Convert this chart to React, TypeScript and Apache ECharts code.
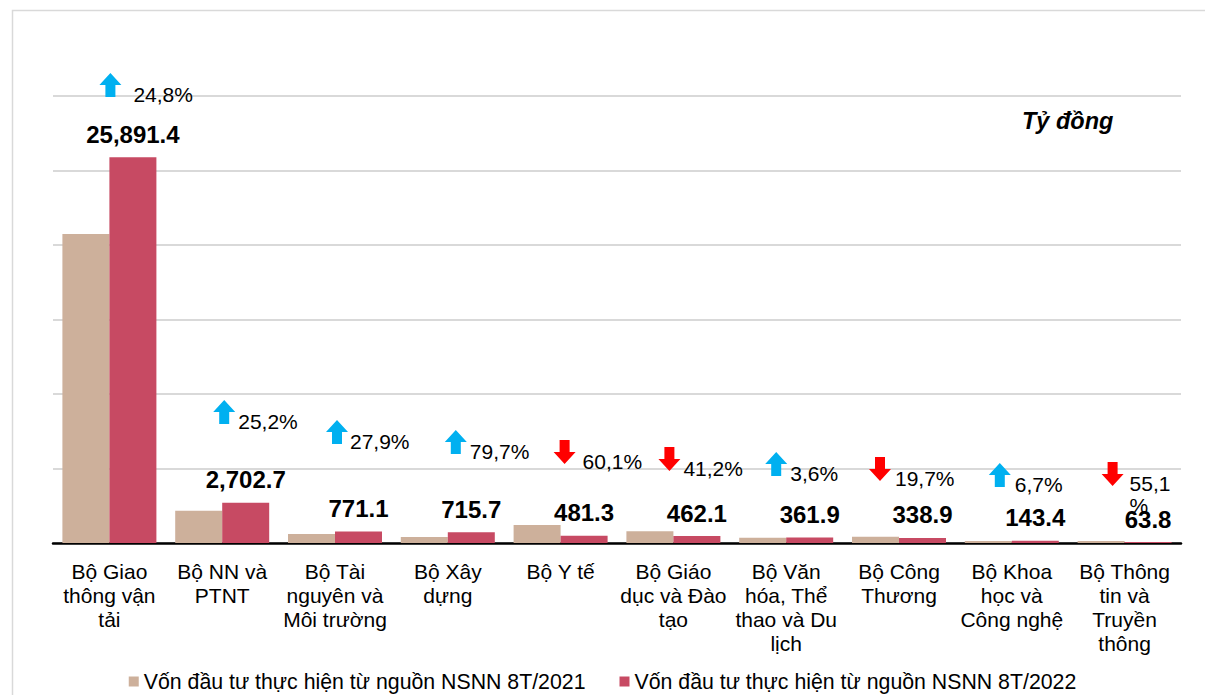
import React, { useEffect, useRef } from "react";
import * as echarts from "echarts";

const CATEGORIES = [
  "Bộ Giao\nthông vận\ntải",
  "Bộ NN và\nPTNT",
  "Bộ Tài\nnguyên và\nMôi trường",
  "Bộ Xây\ndựng",
  "Bộ Y tế",
  "Bộ Giáo\ndục và Đào\ntạo",
  "Bộ Văn\nhóa, Thể\nthao và Du\nlịch",
  "Bộ Công\nThương",
  "Bộ Khoa\nhọc và\nCông nghệ",
  "Bộ Thông\ntin và\nTruyền\nthông",
];

const SERIES_2021 = [20746.3, 2158.7, 602.9, 398.3, 1206.3, 785.9, 349.3, 422.0, 134.4, 142.1];
const SERIES_2022 = [25891.4, 2702.7, 771.1, 715.7, 481.3, 462.1, 361.9, 338.9, 143.4, 63.8];

const PCT_LABELS = ["24,8%", "25,2%", "27,9%", "79,7%", "60,1%", "41,2%", "3,6%", "19,7%", "6,7%", "55,1\n%"];
const PCT_UP = [true, true, true, true, false, false, true, false, true, false];

const NAME_2021 = "Vốn đầu tư thực hiện từ nguồn NSNN 8T/2021";
const NAME_2022 = "Vốn đầu tư thực hiện từ nguồn NSNN 8T/2022";

// layout of the change annotations (pixels)
const ANN_DX = [1, 2, 2, 8, 4, -4, -10, -19, -12, -12];
const ANN_TOP = [73, 400, 420, 430, 440, 447, 452, 457, 463, 462];
const ANN_TEXT_DX = [23, 14, 13, 14, 18, 14, 14, 15, 15, 17];

const FONT = 'Arial, "Liberation Sans", sans-serif';

export default function App() {
  const ref = useRef<HTMLDivElement>(null);
  useEffect(() => {
    if (!ref.current) return;
    const chart = echarts.init(ref.current, undefined, { renderer: "svg" });
    const fmt = (v: number) =>
      Number(v).toLocaleString("en-US", { minimumFractionDigits: 1, maximumFractionDigits: 1 });
    chart.setOption({
      animation: false,
      textStyle: { fontFamily: FONT },
      grid: { left: 53, right: 24, top: 96, bottom: 152, containLabel: false },
      legend: {
        data: [NAME_2021, NAME_2022],
        left: "center",
        top: 666,
        icon: "rect",
        itemWidth: 10,
        itemHeight: 10,
        itemGap: 34,
        textStyle: { fontSize: 21.3, color: "#000", fontFamily: FONT },
      },
      xAxis: {
        type: "category",
        data: CATEGORIES,
        axisLine: { lineStyle: { color: "#000", width: 2.5 } },
        axisTick: { show: false },
        axisLabel: {
          interval: 0,
          fontSize: 21,
          lineHeight: 24,
          color: "#000",
          margin: 16,
          fontFamily: FONT,
        },
      },
      yAxis: {
        type: "value",
        min: 0,
        max: 30000,
        interval: 5000,
        axisLabel: { show: false },
        axisLine: { show: false },
        axisTick: { show: false },
        splitLine: { lineStyle: { color: "#d9d9d9", width: 2 } },
      },
      graphic: [
        {
          type: "rect",
          left: 10,
          top: 8,
          shape: { width: 1210, height: 700 },
          style: { fill: "none", stroke: "#d9d9d9", lineWidth: 1.5 },
          silent: true,
        },
        {
          type: "text",
          left: 1022,
          top: 109,
          style: {
            text: "Tỷ đồng",
            font: `italic bold 23.5px ${FONT}`,
            fill: "#000",
          },
        },
      ],
      series: [
        {
          name: NAME_2021,
          type: "bar",
          data: SERIES_2021,
          barWidth: 47,
          barGap: "0%",
          itemStyle: { color: "#CDB09B" },
        },
        {
          name: NAME_2022,
          type: "bar",
          data: SERIES_2022,
          barWidth: 47,
          itemStyle: { color: "#C74A63" },
          label: {
            show: true,
            position: "top",
            distance: 11,
            fontSize: 24,
            fontWeight: "bold",
            color: "#000",
            fontFamily: FONT,
            formatter: (p: any) => fmt(p.value),
          },
        },
        {
          type: "custom",
          silent: true,
          clip: false,
          z: 10,
          data: PCT_LABELS.map((_, i) => [i, 0]),
          renderItem: (params: any, api: any) => {
            const i = params.dataIndex;
            const cx = api.coord([i, 0])[0] + ANN_DX[i];
            const top = ANN_TOP[i];
            const up = PCT_UP[i];
            const color = up ? "#00B0F0" : "#FF0000";
            const w = 22, sw = 10, hh = 12, h = 24;
            const pts = up
              ? [
                  [cx, top],
                  [cx + w / 2, top + hh],
                  [cx + sw / 2, top + hh],
                  [cx + sw / 2, top + h],
                  [cx - sw / 2, top + h],
                  [cx - sw / 2, top + hh],
                  [cx - w / 2, top + hh],
                ]
              : [
                  [cx, top + h],
                  [cx + w / 2, top + h - hh],
                  [cx + sw / 2, top + h - hh],
                  [cx + sw / 2, top],
                  [cx - sw / 2, top],
                  [cx - sw / 2, top + h - hh],
                  [cx - w / 2, top + h - hh],
                ];
            return {
              type: "group",
              children: [
                { type: "polygon", shape: { points: pts }, style: { fill: color } },
                {
                  type: "text",
                  x: cx + ANN_TEXT_DX[i],
                  y: top + 10,
                  style: {
                    text: PCT_LABELS[i],
                    fill: "#000",
                    font: `21px ${FONT}`,
                    lineHeight: 22,
                    align: "left",
                    verticalAlign: "top",
                  },
                },
              ],
            };
          },
        },
      ],
    });
    return () => chart.dispose();
  }, []);
  return (
    <div
      ref={ref}
      style={{ position: "fixed", left: 0, top: 0, width: 1205, height: 695, background: "#fff" }}
    />
  );
}
